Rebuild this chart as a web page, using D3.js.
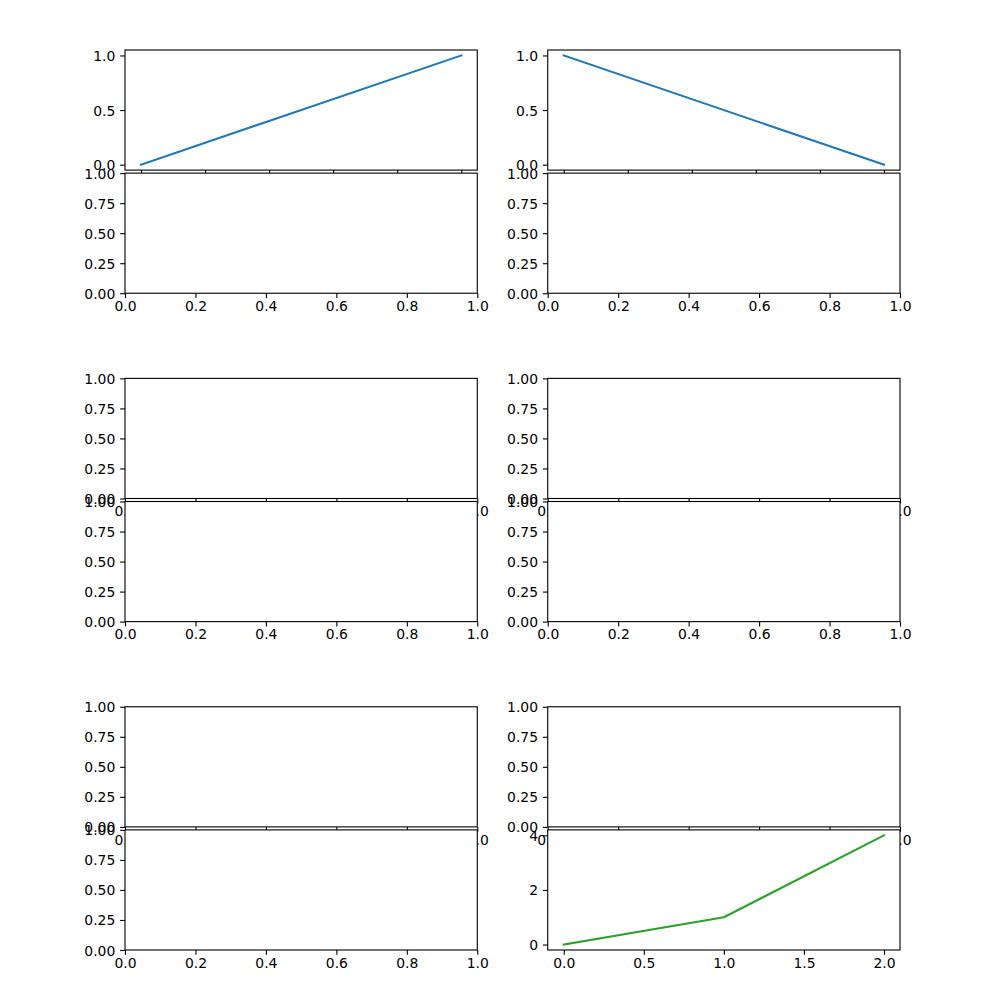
<!DOCTYPE html>
<html>
<head>
<meta charset="utf-8">
<script src="https://cdn.jsdelivr.net/npm/d3@7"></script>
<style>
  html, body { margin: 0; padding: 0; background: #fff; }
  svg { display: block; }
</style>
</head>
<body>
<svg id="chart" width="1000" height="1000"></svg>
<script>
// ---- data ----
const lineX = [0, 1];
const lineYUp = [0, 1];
const lineYDown = [1, 0];
const curveX = [0, 1, 2];
const curveY = [0, 1, 4];

// ---- tick values ----
const unitTicksY = [0, 0.25, 0.5, 0.75, 1];
const unitTicksX = [0, 0.2, 0.4, 0.6, 0.8, 1];
const halfTicksY = [0, 0.5, 1];
const curveTicksX = [0, 0.5, 1, 1.5, 2];
const curveTicksY = [0, 2, 4];

const blue = "#1f77b4";
const green = "#2ca02c";

const svg = d3.select("#chart");
svg.append("rect").attr("width", 1000).attr("height", 1000).attr("fill", "#fff");

const FONT = "DejaVu Sans, sans-serif";
const FS = 13.9;
const TICK = 4.86;
const PAD = 4.86;
const LW = 1.11;

// figure layout (matplotlib-like gridspec)
const figL = 125, figR = 900, figT = 50, figB = 950;
const wspace = 0.2, hspaceOuter = 0.35, hspaceInner = 0.025;
const colW = (figR - figL) / (2 + wspace);
const colGap = colW * wspace;
const grpH = (figB - figT) / (3 + 2 * hspaceOuter);
const grpGap = grpH * hspaceOuter;
const panH = grpH / (2 + hspaceInner);
const panGap = panH * hspaceInner;

function marginDomain(vals) {
  const [a, b] = d3.extent(vals);
  const r = b - a;
  return [a - 0.05 * r, b + 0.05 * r];
}

let clipId = 0;
function panel(x0, y0, w, h, cfg) {
  const g = svg.append("g").attr("transform", `translate(${x0},${y0})`);
  g.append("rect").attr("width", w).attr("height", h).attr("fill", "#fff");

  const xs = d3.scaleLinear().domain(cfg.xDomain).range([0, w]);
  const ys = d3.scaleLinear().domain(cfg.yDomain).range([h, 0]);

  if (cfg.line) {
    const id = "clip" + (clipId++);
    g.append("clipPath").attr("id", id).append("rect").attr("width", w).attr("height", h);
    const pts = cfg.line.x.map((v, i) => [v, cfg.line.y[i]]);
    g.append("path")
      .attr("clip-path", `url(#${id})`)
      .attr("d", d3.line().x(d => xs(d[0])).y(d => ys(d[1]))(pts))
      .attr("fill", "none")
      .attr("stroke", cfg.line.color)
      .attr("stroke-width", 2.08)
      .attr("stroke-linejoin", "round")
      .attr("stroke-linecap", "square");
  }

  const xAxis = d3.axisBottom(xs).tickValues(cfg.xTicks).tickSize(TICK).tickPadding(PAD)
    .tickFormat(cfg.xLabels ? d3.format(cfg.xFmt) : () => "");
  const gx = g.append("g").attr("transform", `translate(0,${h})`).call(xAxis);
  const yAxis = d3.axisLeft(ys).tickValues(cfg.yTicks).tickSize(TICK).tickPadding(PAD)
    .tickFormat(d3.format(cfg.yFmt));
  const gy = g.append("g").call(yAxis);

  [gx, gy].forEach(a => {
    a.select(".domain").remove();
    a.attr("font-family", FONT).attr("font-size", FS);
    a.selectAll(".tick line").attr("stroke", "#000").attr("stroke-width", LW);
    a.selectAll(".tick text").attr("fill", "#000");
  });
  gx.selectAll(".tick text").attr("dy", "0.58em");
  gy.selectAll(".tick text").attr("dy", "0.36em");

  g.append("rect").attr("width", w).attr("height", h)
    .attr("fill", "none").attr("stroke", "#000").attr("stroke-width", LW);
}

const emptyCfg = (xLabels) => ({
  xDomain: [0, 1], yDomain: [0, 1],
  xTicks: unitTicksX, yTicks: unitTicksY,
  xFmt: ".1f", yFmt: ".2f", xLabels: xLabels
});

for (let r = 0; r < 3; r++) {
  for (let c = 0; c < 2; c++) {
    const x0 = figL + c * (colW + colGap);
    const gy0 = figT + r * (grpH + grpGap);
    const yUpper = gy0;
    const yLower = gy0 + panH + panGap;

    // upper panel
    if (r === 0) {
      const ly = c === 0 ? lineYUp : lineYDown;
      panel(x0, yUpper, colW, panH, {
        xDomain: marginDomain(lineX), yDomain: marginDomain(ly),
        xTicks: unitTicksX, yTicks: halfTicksY,
        xFmt: ".1f", yFmt: ".1f", xLabels: false,
        line: { x: lineX, y: ly, color: blue }
      });
    } else {
      panel(x0, yUpper, colW, panH, emptyCfg(true));
    }

    // lower panel
    if (r === 2 && c === 1) {
      panel(x0, yLower, colW, panH, {
        xDomain: marginDomain(curveX), yDomain: marginDomain(curveY),
        xTicks: curveTicksX, yTicks: curveTicksY,
        xFmt: ".1f", yFmt: "d", xLabels: true,
        line: { x: curveX, y: curveY, color: green }
      });
    } else {
      panel(x0, yLower, colW, panH, emptyCfg(true));
    }
  }
}
</script>
</body>
</html>
